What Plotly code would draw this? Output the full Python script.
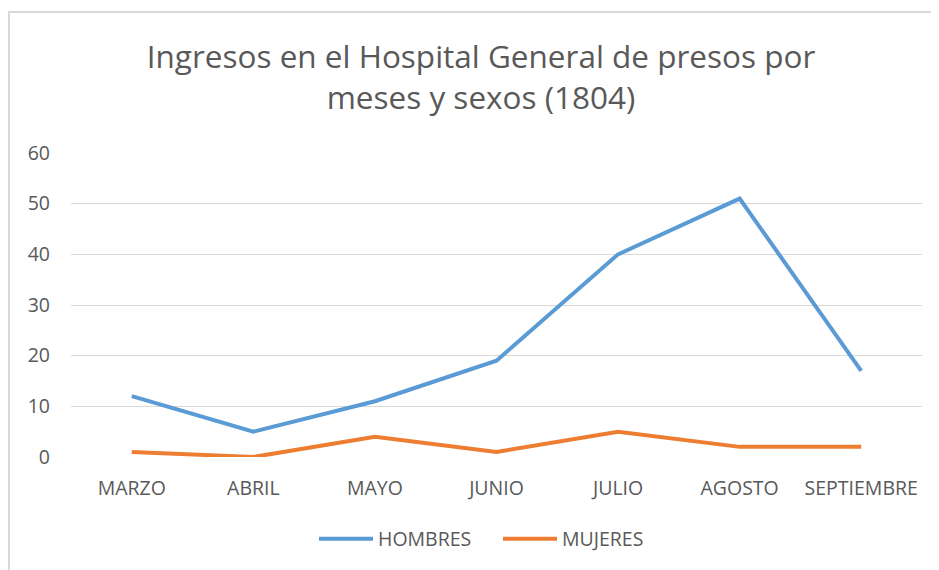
import plotly.graph_objects as go

meses = ["MARZO", "ABRIL", "MAYO", "JUNIO", "JULIO", "AGOSTO", "SEPTIEMBRE"]
hombres = [12, 5, 11, 19, 40, 51, 17]
mujeres = [1, 0, 4, 1, 5, 2, 2]
y_ticks = [0, 10, 20, 30, 40, 50, 60]

FONT = "Open Sans, sans-serif"
GREY = "#595959"

# page offset of 8px (body margin) is accounted for below
OFF = 8
W, H = 939, 570
L, R, T, B = 71 - OFF, 17 + OFF, 153 - OFF, 113 + OFF
pw, ph = W - L - R, H - T - B

def px_x(p):  # page px -> paper
    return (p - OFF - L) / pw

def px_y(p):
    return (H - B - (p - OFF)) / ph

fig = go.Figure()
fig.add_trace(go.Scatter(x=meses, y=hombres, name="HOMBRES", mode="lines",
                         line=dict(color="#5B9BD5", width=4)))
fig.add_trace(go.Scatter(x=meses, y=mujeres, name="MUJERES", mode="lines",
                         line=dict(color="#ED7D31", width=4)))

fig.update_layout(
    width=W, height=H,
    margin=dict(l=L, r=R, t=T, b=B, autoexpand=False),
    paper_bgcolor="white", plot_bgcolor="white",
    font=dict(family=FONT, color=GREY, size=19),
    title=dict(text="Ingresos en el Hospital General de presos por<br>meses y sexos (1804)",
               x=px_x(481), xanchor="center", xref="paper",
               y=1 - (68 - OFF) / H, yanchor="middle",
               font=dict(family=FONT, size=31.5, color=GREY, lineposition="none"),
               ),
    showlegend=True,
    legend=dict(orientation="h", x=px_x(314), xanchor="left", xref="paper",
                y=px_y(539), yanchor="middle", yref="paper",
                font=dict(size=19.5, color=GREY), itemwidth=54, entrywidth=115,
                traceorder="normal"),
    xaxis=dict(type="category", range=[-0.5, 6.5], showgrid=False, showline=False,
               zeroline=False, ticks="", tickfont=dict(size=19.5, color=GREY),
               ticklabelstandoff=17, fixedrange=True),
    yaxis=dict(range=[0, 60], tickvals=y_ticks, showgrid=True, gridcolor="#D9D9D9",
               gridwidth=1, zeroline=False, showline=False, ticks="",
               tickfont=dict(size=19.5, color=GREY), ticklabelstandoff=20),
    shapes=[dict(type="rect", xref="paper", yref="paper",
                 x0=px_x(9), x1=px_x(990), y0=px_y(640), y1=px_y(12),
                 line=dict(color="#D9D9D9", width=2), fillcolor="rgba(0,0,0,0)",
                 layer="below")],
)

fig.write_html("out.html")
